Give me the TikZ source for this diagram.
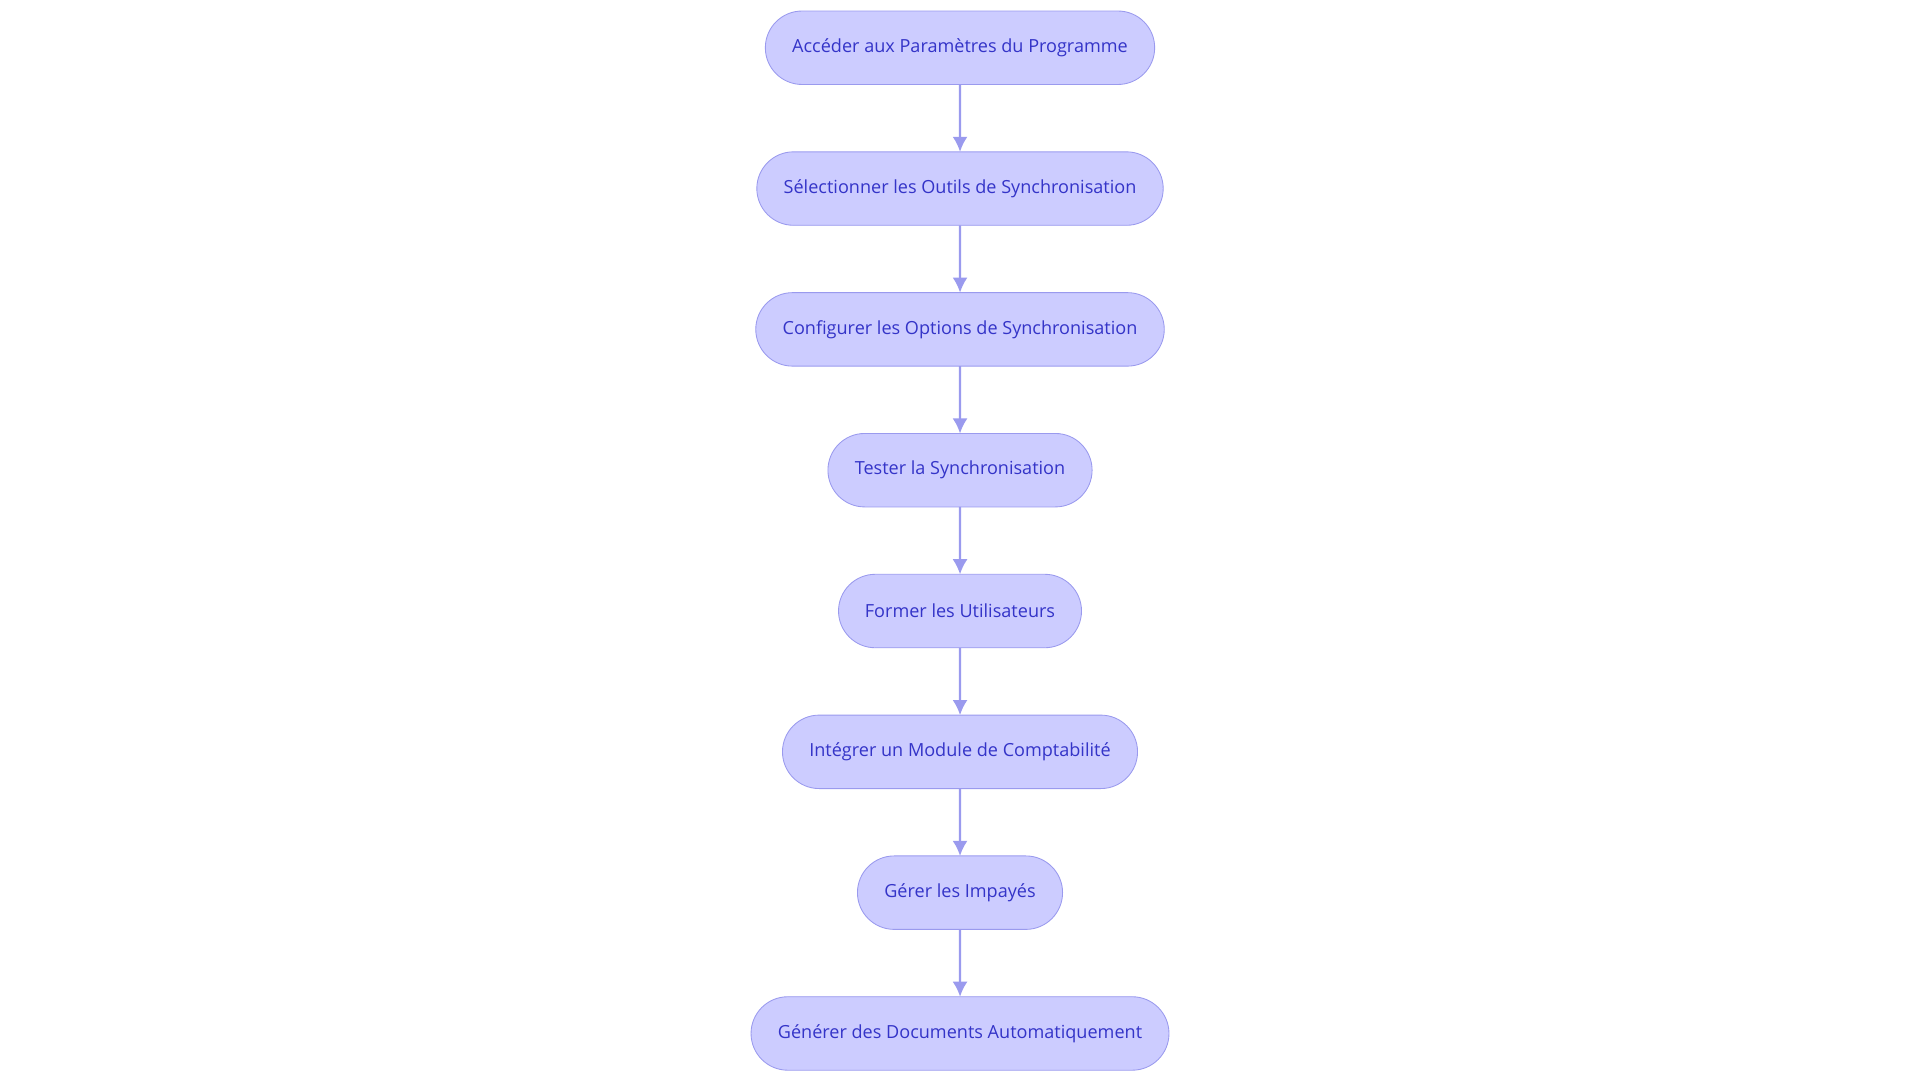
\documentclass[tikz,border=0pt]{standalone}
\usepackage{fontspec}
\setmainfont{Open Sans}
\usetikzlibrary{positioning,shapes.misc,arrows.meta}
\definecolor{stepfill}{HTML}{CCCCFF}
\definecolor{stepline}{HTML}{9A9AEE}
\definecolor{steptext}{HTML}{3434C8}
\begin{document}
\begin{tikzpicture}
	[every node/.style={inner sep=1pt,outer sep=0},
	stage/.style={shape=rounded rectangle,draw=stepline,fill=stepfill,
		text=steptext,font=\fontsize{8.4}{10}\selectfont,
		minimum height=1.2cm,inner xsep=0.42cm},
	flow/.style={draw=stepline,line width=1pt,-{Latex[length=7pt,width=7pt]}},
	node distance=1.1cm]
	\useasboundingbox (0,0) rectangle (31.36,-17.68);
	\node[stage] (acc)  at (15.68,-0.78) {Accéder aux Paramètres du Programme};
	\node[stage,below=of acc]  (sel)  {Sélectionner les Outils de Synchronisation};
	\node[stage,below=of sel]  (conf) {Configurer les Options de Synchronisation};
	\node[stage,below=of conf] (test) {Tester la Synchronisation};
	\node[stage,below=of test] (form) {Former les Utilisateurs};
	\node[stage,below=of form] (integ) {Intégrer un Module de Comptabilité};
	\node[stage,below=of integ] (imp) {Gérer les Impayés};
	\node[stage,below=of imp]  (gen)  {Générer des Documents Automatiquement};
	\draw[flow] (acc) -- (sel);
	\draw[flow] (sel) -- (conf);
	\draw[flow] (conf) -- (test);
	\draw[flow] (test) -- (form);
	\draw[flow] (form) -- (integ);
	\draw[flow] (integ) -- (imp);
	\draw[flow] (imp) -- (gen);
\end{tikzpicture}
\end{document}
